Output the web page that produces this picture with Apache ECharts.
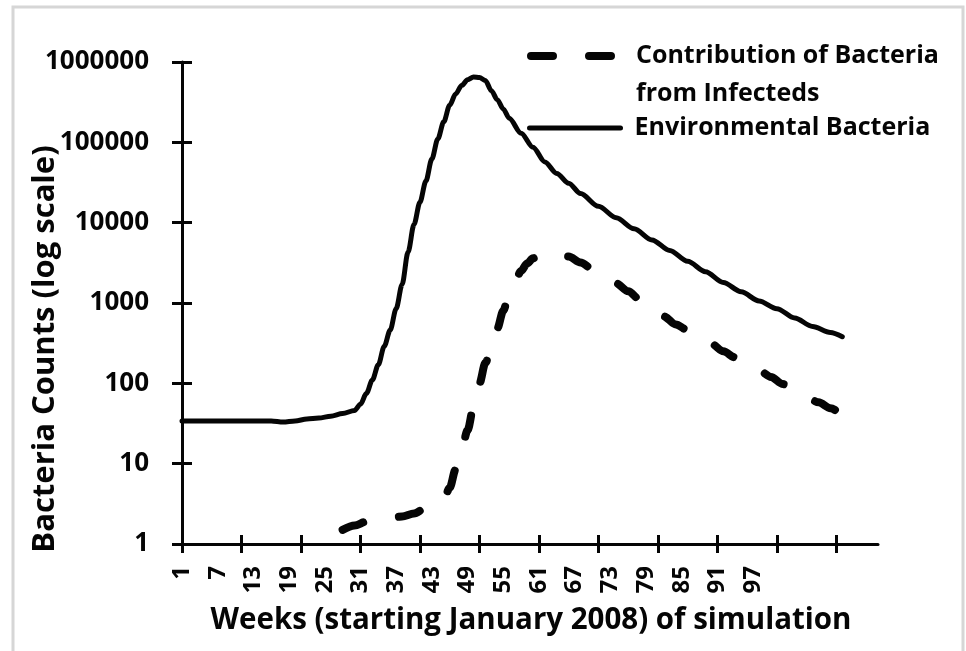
<!DOCTYPE html>
<html>
<head>
<meta charset="utf-8">
<script src="https://cdn.jsdelivr.net/npm/echarts@6/dist/echarts.min.js"></script>
<style>
  html, body { margin: 0; padding: 0; background: #fff; }
  #bacteria-chart { width: 966px; height: 651px; }
</style>
</head>
<body>
<div id="bacteria-chart"></div>
<script>
// weeks of the simulation (category axis)
var weekCount = 118;
var weeks = [];
for (var w = 1; w <= weekCount; w++) weeks.push(String(w));

// y axis labels (log scale)
var yTicks = [1, 10, 100, 1000, 10000, 100000, 1000000];

// Environmental Bacteria (solid)
var envWeeks = ['1', '7', '13', '16', '18', '20', '22', '24', '26', '28', '30', '31', '32', '33', '34', '35', '36', '37', '38', '39', '40', '41', '42', '43', '44', '45', '46', '47', '48', '49', '50', '51', '52', '53', '54', '55', '56', '58', '60', '62', '64', '66', '68', '71', '74', '77', '80', '83', '86', '89', '92', '95', '98', '101', '104', '107', '110', '112'];
var envValues = [34, 34, 34, 34, 33, 34, 36, 37, 39, 42, 46, 55, 75, 110, 170, 290, 460, 850, 1700, 4300, 9500, 18000, 33000, 62000, 110000, 180000, 290000, 400000, 510000, 600000, 650000, 640000, 590000, 440000, 340000, 260000, 200000, 130000, 87000, 57000, 41000, 31000, 23000, 16000, 11500, 8400, 6100, 4500, 3300, 2450, 1800, 1380, 1060, 850, 650, 510, 430, 380];

// Contribution of Bacteria from Infecteds (dashed)
var infWeeks = ['28', '30', '32', '34', '36', '38', '40', '42', '44', '45', '46', '47', '48', '49', '50', '51', '52', '53', '54', '55', '56', '57', '58', '59', '60', '61', '62', '64', '66', '68', '70', '72', '74', '76', '78', '80', '82', '84', '86', '88', '90', '92', '94', '96', '98', '100', '102', '104', '106', '108', '110', '112', '114', '115'];
var infValues = [1.5, 1.7, 1.9, 2.0, 2.1, 2.2, 2.4, 2.8, 3.2, 3.6, 5, 8.5, 15, 26, 50, 100, 180, 270, 480, 800, 1300, 1900, 2500, 3100, 3600, 3950, 4150, 4200, 3800, 3200, 2650, 2100, 1750, 1400, 1100, 870, 680, 540, 460, 390, 310, 250, 210, 175, 145, 120, 98, 80, 67, 58, 49, 42, 36, 34];

function pairs(xs, ys) {
  var out = [];
  for (var i = 0; i < xs.length; i++) out.push([xs[i], ys[i]]);
  return out;
}

var ink = '#050505';
var font = '"Open Sans", "Liberation Sans", sans-serif';
var dash = [22, 36];

var myChart = echarts.init(document.getElementById('bacteria-chart'), null, { renderer: 'canvas' });

myChart.setOption({
  animation: false,
  backgroundColor: '#fff',
  grid: { left: 182, right: 88, top: 62, bottom: 107, containLabel: false },
  legend: [
    {
      left: 527, top: -1, padding: 0,
      itemWidth: 91, itemHeight: 14,
      data: ['Contribution of Bacteria from Infecteds'],
      // empty first line keeps the icon level with the first text line
      formatter: function (name) { return '\n' + name.replace(' from', '\nfrom'); },
      itemStyle: { opacity: 0 },
      lineStyle: { color: ink, width: 8, type: dash, cap: 'round' },
      textStyle: { color: ink, fontFamily: font, fontWeight: 700, fontSize: 25, lineHeight: 38, padding: [0, 0, 0, 9] }
    },
    {
      left: 527, top: 110, padding: 0,
      itemWidth: 91, itemHeight: 14,
      data: ['Environmental Bacteria'],
      itemStyle: { opacity: 0 },
      lineStyle: { color: ink, width: 5, type: 'solid', cap: 'round' },
      textStyle: { color: ink, fontFamily: font, fontWeight: 700, fontSize: 25, lineHeight: 36, padding: [0, 0, 0, 9] }
    }
  ],
  xAxis: [
    {
      type: 'category', position: 'bottom', boundaryGap: false, data: weeks,
      axisLine: { lineStyle: { color: ink, width: 3 } },
      axisTick: { length: 9, lineStyle: { color: ink, width: 3 },
        interval: function (index) { return index % 10 === 0; } },
      axisLabel: {
        rotate: 90, margin: 22, color: ink, fontFamily: font, fontWeight: 700, fontSize: 24,
        interval: function (index) { return index % 6 === 0 && index <= 96; }
      },
      splitLine: { show: false }
    },
    {
      type: 'category', position: 'bottom', boundaryGap: false, data: weeks,
      axisLine: { show: false },
      axisTick: { inside: true, length: 9, lineStyle: { color: ink, width: 3 },
        interval: function (index) { return index % 10 === 0; } },
      axisLabel: { show: false },
      splitLine: { show: false }
    }
  ],
  yAxis: [
    {
      type: 'log', logBase: 10, min: yTicks[0], max: yTicks[yTicks.length - 1], splitNumber: 6, position: 'left',
      axisLine: { show: true, lineStyle: { color: ink, width: 3 } },
      axisTick: { show: true, length: 10, lineStyle: { color: ink, width: 3 } },
      axisLabel: {
        margin: 33, color: ink, fontFamily: font, fontWeight: 700, fontSize: 26,
        formatter: function (v) { return String(Math.round(v)); }
      },
      splitLine: { show: false }
    },
    {
      type: 'log', logBase: 10, min: yTicks[0], max: yTicks[yTicks.length - 1], splitNumber: 6, position: 'left',
      axisLine: { show: false },
      axisTick: { show: true, inside: true, length: 10, lineStyle: { color: ink, width: 3 } },
      axisLabel: { show: false },
      splitLine: { show: false }
    }
  ],
  series: [
    {
      name: 'Contribution of Bacteria from Infecteds',
      type: 'line', xAxisIndex: 0, yAxisIndex: 0,
      data: pairs(infWeeks, infValues),
      symbol: 'none', smooth: 0.3, smoothMonotone: 'x',
      lineStyle: { color: ink, width: 8, type: dash, cap: 'round' },
      itemStyle: { color: ink }
    },
    {
      name: 'Environmental Bacteria',
      type: 'line', xAxisIndex: 0, yAxisIndex: 0,
      data: pairs(envWeeks, envValues),
      symbol: 'none', smooth: 0.3, smoothMonotone: 'x',
      lineStyle: { color: ink, width: 5, cap: 'round', join: 'round' },
      itemStyle: { color: ink }
    }
  ],
  graphic: [
    {
      type: 'rect', silent: true, z: -1,
      shape: { x: 13, y: 7, width: 950, height: 660 },
      style: { fill: 'none', stroke: '#d6d6d6', lineWidth: 3 }
    },
    {
      type: 'text', x: 531, y: 621,
      style: { text: 'Weeks (starting January 2008) of simulation', fill: ink,
        font: '700 29.5px ' + font, textAlign: 'center', textVerticalAlign: 'middle' }
    },
    {
      type: 'text', x: 45, y: 349, rotation: Math.PI / 2,
      style: { text: 'Bacteria Counts (log scale)', fill: ink,
        font: '700 31px ' + font, textAlign: 'center', textVerticalAlign: 'middle' }
    }
  ]
});
</script>
</body>
</html>
